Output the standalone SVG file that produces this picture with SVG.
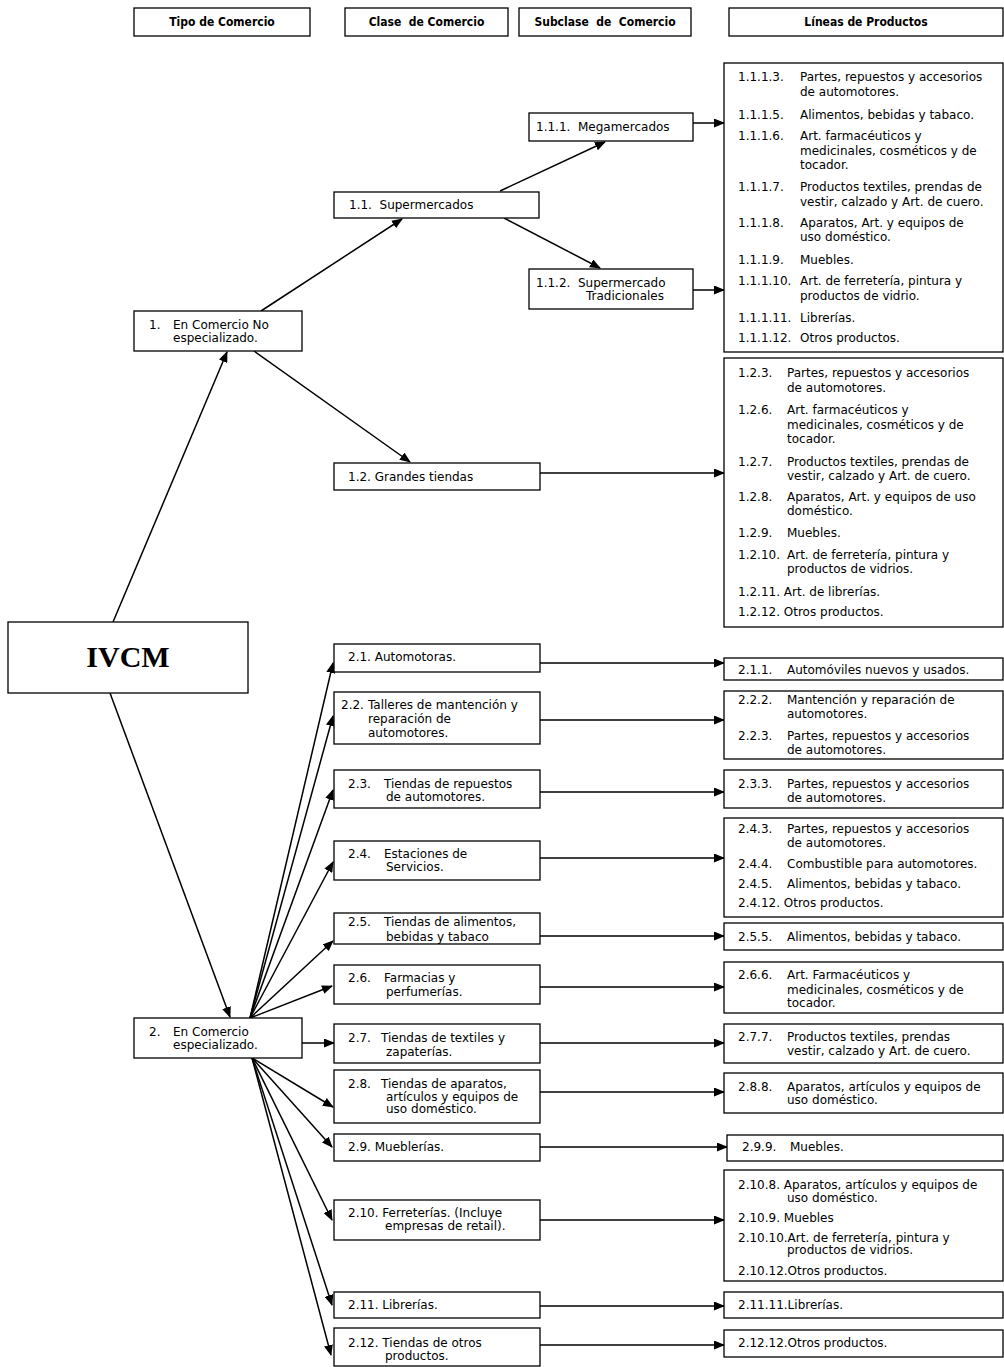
<svg xmlns="http://www.w3.org/2000/svg" width="1004" height="1367" viewBox="0 0 1004 1367">
<style>
rect{fill:#fff;stroke:#000;stroke-width:1.3}
text{font-family:"DejaVu Sans",Verdana,sans-serif;font-size:12px;fill:#000;white-space:pre}
.h{font-family:"DejaVu Sans Condensed","DejaVu Sans",sans-serif;font-stretch:condensed;font-weight:bold;font-size:12px;text-anchor:middle}
.big{font-family:"Liberation Serif","Times New Roman",serif;font-weight:bold;font-size:30px;text-anchor:middle}
#conn line{stroke:#000;stroke-width:1.5;marker-end:url(#a)}
</style>
<defs>
<marker id="a" markerWidth="11" markerHeight="9" refX="10" refY="4.5" orient="auto" markerUnits="userSpaceOnUse"><path d="M0,0 L11,4.5 L0,9 z" fill="#000"/></marker>
</defs>

<g id="headers">
<g id="h1"><rect x="134" y="8" width="176" height="28"/><text class="h" x="222" y="26">Tipo de Comercio</text></g>
<g id="h2"><rect x="345" y="8" width="163" height="28"/><text class="h" x="426.5" y="26">Clase  de Comercio</text></g>
<g id="h3"><rect x="519" y="8" width="172" height="28"/><text class="h" x="605" y="26">Subclase  de  Comercio</text></g>
<g id="h4"><rect x="729" y="8" width="274" height="28"/><text class="h" x="866" y="26">Líneas de Productos</text></g>
</g>

<g id="conn">
<line x1="113" y1="622" x2="227" y2="352"/>
<line x1="110" y1="693" x2="230" y2="1017"/>
<line x1="261" y1="311" x2="402" y2="219"/>
<line x1="254" y1="351" x2="410" y2="462"/>
<line x1="500" y1="191" x2="605" y2="142"/>
<line x1="504" y1="218" x2="600" y2="268"/>
<line x1="693" y1="123" x2="724" y2="123"/>
<line x1="693" y1="290" x2="724" y2="290"/>
<line x1="540" y1="473" x2="724" y2="473"/>
<line x1="250" y1="1018" x2="333" y2="663"/>
<line x1="250" y1="1018" x2="333" y2="716"/>
<line x1="250" y1="1018" x2="333" y2="790"/>
<line x1="250" y1="1018" x2="333" y2="862"/>
<line x1="250" y1="1018" x2="333" y2="941"/>
<line x1="250" y1="1018" x2="332" y2="986"/>
<line x1="302" y1="1043" x2="334" y2="1043"/>
<line x1="252" y1="1058" x2="333" y2="1107"/>
<line x1="252" y1="1058" x2="332" y2="1147"/>
<line x1="252" y1="1058" x2="332" y2="1220"/>
<line x1="252" y1="1058" x2="332" y2="1305"/>
<line x1="252" y1="1058" x2="331" y2="1355"/>
<line x1="540" y1="663" x2="724" y2="663"/>
<line x1="540" y1="720" x2="724" y2="720"/>
<line x1="540" y1="792" x2="724" y2="792"/>
<line x1="540" y1="858" x2="724" y2="858"/>
<line x1="540" y1="936" x2="724" y2="936"/>
<line x1="540" y1="987" x2="724" y2="987"/>
<line x1="540" y1="1043" x2="724" y2="1043"/>
<line x1="540" y1="1092" x2="724" y2="1092"/>
<line x1="540" y1="1147" x2="727" y2="1147"/>
<line x1="540" y1="1220" x2="724" y2="1220"/>
<line x1="540" y1="1306" x2="724" y2="1306"/>
<line x1="540" y1="1345" x2="724" y2="1345"/>
</g>

<g id="ivcm"><rect x="8" y="622" width="240" height="71"/><text class="big" x="128" y="667">IVCM</text></g>

<g id="n1"><rect x="134" y="311" width="168" height="40"/><text x="149" y="329">1.</text><text x="173" y="329">En Comercio No</text><text x="173" y="342">especializado.</text></g>
<g id="n11"><rect x="334" y="192" width="205" height="26"/><text x="349" y="209">1.1.  Supermercados</text></g>
<g id="n111"><rect x="529" y="113" width="164" height="28"/><text x="536" y="131">1.1.1.  Megamercados</text></g>
<g id="n112"><rect x="529" y="269" width="164" height="40"/><text x="536" y="287">1.1.2.  Supermercado</text><text x="586" y="300">Tradicionales</text></g>
<g id="n12"><rect x="334" y="463" width="206" height="27"/><text x="348" y="481">1.2. Grandes tiendas</text></g>

<g id="p11">
<rect x="724" y="63" width="279" height="289"/>
<text x="738" y="81">1.1.1.3.</text><text x="800" y="81">Partes, repuestos y accesorios</text><text x="800" y="96">de automotores.</text>
<text x="738" y="119">1.1.1.5.</text><text x="800" y="119">Alimentos, bebidas y tabaco.</text>
<text x="738" y="140">1.1.1.6.</text><text x="800" y="140">Art. farmacéuticos y</text><text x="800" y="155">medicinales, cosméticos y de</text><text x="800" y="169">tocador.</text>
<text x="738" y="191">1.1.1.7.</text><text x="800" y="191">Productos textiles, prendas de</text><text x="800" y="206">vestir, calzado y Art. de cuero.</text>
<text x="738" y="227">1.1.1.8.</text><text x="800" y="227">Aparatos, Art. y equipos de</text><text x="800" y="241">uso doméstico.</text>
<text x="738" y="264">1.1.1.9.</text><text x="800" y="264">Muebles.</text>
<text x="738" y="285">1.1.1.10.</text><text x="800" y="285">Art. de ferretería, pintura y</text><text x="800" y="300">productos de vidrio.</text>
<text x="738" y="322">1.1.1.11.</text><text x="800" y="322">Librerías.</text>
<text x="738" y="342">1.1.1.12.</text><text x="800" y="342">Otros productos.</text>
</g>

<g id="p12">
<rect x="724" y="358" width="279" height="269"/>
<text x="738" y="377">1.2.3.</text><text x="787" y="377">Partes, repuestos y accesorios</text><text x="787" y="392">de automotores.</text>
<text x="738" y="414">1.2.6.</text><text x="787" y="414">Art. farmacéuticos y</text><text x="787" y="429">medicinales, cosméticos y de</text><text x="787" y="443">tocador.</text>
<text x="738" y="466">1.2.7.</text><text x="787" y="466">Productos textiles, prendas de</text><text x="787" y="480">vestir, calzado y Art. de cuero.</text>
<text x="738" y="501">1.2.8.</text><text x="787" y="501">Aparatos, Art. y equipos de uso</text><text x="787" y="515">doméstico.</text>
<text x="738" y="537">1.2.9.</text><text x="787" y="537">Muebles.</text>
<text x="738" y="559">1.2.10.</text><text x="787" y="559">Art. de ferretería, pintura y</text><text x="787" y="573">productos de vidrios.</text>
<text x="738" y="596">1.2.11. Art. de librerías.</text>
<text x="738" y="616">1.2.12. Otros productos.</text>
</g>

<g id="n2"><rect x="134" y="1018" width="168" height="40"/><text x="149" y="1036">2.</text><text x="173" y="1036">En Comercio</text><text x="173" y="1049">especializado.</text></g>

<g id="n21"><rect x="334" y="644" width="206" height="28"/><text x="348" y="661">2.1. Automotoras.</text></g>
<g id="n22"><rect x="334" y="692" width="206" height="52"/><text x="341" y="709">2.2.</text><text x="368" y="709">Talleres de mantención y</text><text x="368" y="723">reparación de</text><text x="368" y="737">automotores.</text></g>
<g id="n23"><rect x="334" y="770" width="206" height="38"/><text x="348" y="788">2.3.</text><text x="384" y="788">Tiendas de repuestos</text><text x="386" y="801">de automotores.</text></g>
<g id="n24"><rect x="334" y="841" width="206" height="39"/><text x="348" y="858">2.4.</text><text x="384" y="858">Estaciones de</text><text x="386" y="871">Servicios.</text></g>
<g id="n25"><rect x="334" y="913" width="206" height="31"/><text x="348" y="926">2.5.</text><text x="384" y="926">Tiendas de alimentos,</text><text x="386" y="941">bebidas y tabaco</text></g>
<g id="n26"><rect x="334" y="965" width="206" height="39"/><text x="348" y="982">2.6.</text><text x="384" y="982">Farmacias y</text><text x="386" y="996">perfumerías.</text></g>
<g id="n27"><rect x="334" y="1024" width="206" height="39"/><text x="348" y="1042">2.7.</text><text x="381" y="1042">Tiendas de textiles y</text><text x="386" y="1056">zapaterías.</text></g>
<g id="n28"><rect x="334" y="1070" width="206" height="53"/><text x="348" y="1088">2.8.</text><text x="381" y="1088">Tiendas de aparatos,</text><text x="386" y="1101">artículos y equipos de</text><text x="386" y="1113">uso doméstico.</text></g>
<g id="n29"><rect x="334" y="1134" width="206" height="27"/><text x="348" y="1151">2.9. Mueblerías.</text></g>
<g id="n210"><rect x="334" y="1200" width="206" height="40"/><text x="348" y="1217">2.10. Ferreterías. (Incluye</text><text x="385" y="1230">empresas de retail).</text></g>
<g id="n211"><rect x="334" y="1292" width="206" height="26"/><text x="348" y="1309">2.11. Librerías.</text></g>
<g id="n212"><rect x="334" y="1328" width="206" height="38"/><text x="348" y="1347">2.12. Tiendas de otros</text><text x="385" y="1360">productos.</text></g>

<g id="p21"><rect x="724" y="658" width="279" height="22"/><text x="738" y="674">2.1.1.</text><text x="787" y="674">Automóviles nuevos y usados.</text></g>
<g id="p22"><rect x="724" y="691" width="279" height="68"/><text x="738" y="704">2.2.2.</text><text x="787" y="704">Mantención y reparación de</text><text x="787" y="718">automotores.</text><text x="738" y="740">2.2.3.</text><text x="787" y="740">Partes, repuestos y accesorios</text><text x="787" y="754">de automotores.</text></g>
<g id="p23"><rect x="724" y="770" width="279" height="38"/><text x="738" y="788">2.3.3.</text><text x="787" y="788">Partes, repuestos y accesorios</text><text x="787" y="802">de automotores.</text></g>
<g id="p24"><rect x="724" y="818" width="279" height="99"/><text x="738" y="833">2.4.3.</text><text x="787" y="833">Partes, repuestos y accesorios</text><text x="787" y="847">de automotores.</text><text x="738" y="868">2.4.4.</text><text x="787" y="868">Combustible para automotores.</text><text x="738" y="888">2.4.5.</text><text x="787" y="888">Alimentos, bebidas y tabaco.</text><text x="738" y="907">2.4.12. Otros productos.</text></g>
<g id="p25"><rect x="724" y="923" width="279" height="27"/><text x="738" y="941">2.5.5.</text><text x="787" y="941">Alimentos, bebidas y tabaco.</text></g>
<g id="p26"><rect x="724" y="962" width="279" height="51"/><text x="738" y="979">2.6.6.</text><text x="787" y="979">Art. Farmacéuticos y</text><text x="787" y="994">medicinales, cosméticos y de</text><text x="787" y="1007">tocador.</text></g>
<g id="p27"><rect x="724" y="1024" width="279" height="39"/><text x="738" y="1041">2.7.7.</text><text x="787" y="1041">Productos textiles, prendas</text><text x="787" y="1055">vestir, calzado y Art. de cuero.</text></g>
<g id="p28"><rect x="724" y="1073" width="279" height="40"/><text x="738" y="1091">2.8.8.</text><text x="787" y="1091">Aparatos, artículos y equipos de</text><text x="787" y="1104">uso doméstico.</text></g>
<g id="p29"><rect x="727" y="1135" width="276" height="26"/><text x="742" y="1151">2.9.9.</text><text x="790" y="1151">Muebles.</text></g>
<g id="p210"><rect x="724" y="1170" width="279" height="111"/><text x="738" y="1189">2.10.8. Aparatos, artículos y equipos de</text><text x="787" y="1202">uso doméstico.</text><text x="738" y="1222">2.10.9. Muebles</text><text x="738" y="1242">2.10.10.Art. de ferretería, pintura y</text><text x="787" y="1254">productos de vidrios.</text><text x="738" y="1275">2.10.12.Otros productos.</text></g>
<g id="p211"><rect x="724" y="1292" width="279" height="26"/><text x="738" y="1309">2.11.11.Librerías.</text></g>
<g id="p212"><rect x="724" y="1330" width="279" height="27"/><text x="738" y="1347">2.12.12.Otros productos.</text></g>
</svg>
